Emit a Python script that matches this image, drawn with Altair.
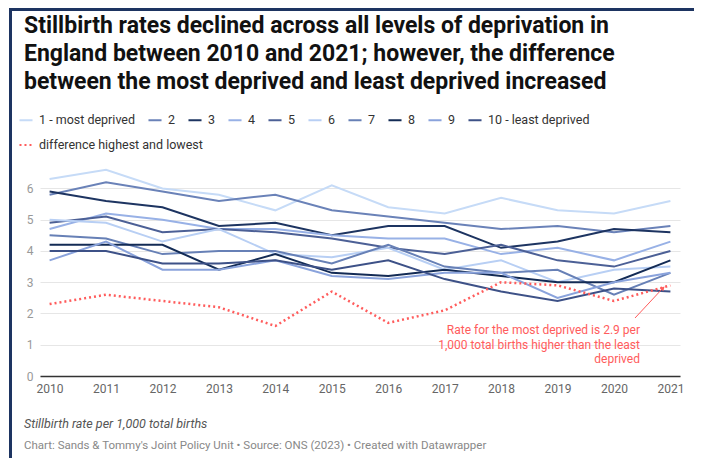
import altair as alt
import pandas as pd

years = list(range(2010, 2022))
series_names = ["1 - most deprived", "2", "3", "4", "5", "6", "7", "8", "9", "10 - least deprived"]
s1 = [6.3, 6.6, 6.0, 5.8, 5.3, 6.1, 5.4, 5.2, 5.7, 5.3, 5.2, 5.6]
s2 = [5.8, 6.2, 5.9, 5.6, 5.8, 5.3, 5.1, 4.9, 4.7, 4.8, 4.6, 4.8]
s3 = [5.9, 5.6, 5.4, 4.8, 4.9, 4.5, 4.8, 4.8, 4.1, 4.3, 4.7, 4.6]
s4 = [4.7, 5.2, 5.0, 4.7, 4.7, 4.5, 4.4, 4.4, 3.9, 4.1, 3.7, 4.3]
s5 = [4.9, 5.1, 4.6, 4.7, 4.6, 4.4, 4.1, 3.9, 4.2, 3.7, 3.5, 4.0]
s6 = [5.0, 4.9, 4.3, 4.7, 3.9, 3.8, 4.1, 3.4, 3.7, 3.0, 3.4, 3.5]
s7 = [4.5, 4.4, 3.9, 4.0, 4.0, 3.6, 4.2, 3.5, 3.3, 3.4, 2.6, 3.3]
s8 = [4.2, 4.2, 4.2, 3.4, 3.9, 3.3, 3.2, 3.4, 3.2, 3.0, 3.0, 3.7]
s9 = [3.7, 4.3, 3.4, 3.4, 3.7, 3.2, 3.1, 3.3, 3.3, 2.5, 3.0, 3.3]
s10 = [4.0, 4.0, 3.6, 3.6, 3.7, 3.4, 3.7, 3.1, 2.7, 2.4, 2.8, 2.7]
diff_label = "difference highest and lowest"
diff = [2.3, 2.6, 2.4, 2.2, 1.6, 2.7, 1.7, 2.1, 3.0, 2.9, 2.4, 2.9]
colors = ["#c6dbf7", "#6a82b8", "#1d3461", "#98b1e6", "#4c6096",
          "#b8cff4", "#6780b6", "#132b55", "#8aa3dc", "#3d5187"]
y_ticks = [0, 1, 2, 3, 4, 5, 6]

title_lines = [
    "Stillbirth rates declined across all levels of deprivation in",
    "England between 2010 and 2021; however, the difference",
    "between the most deprived and least deprived increased",
]
annotation = [
    "Rate for the most deprived is 2.9 per",
    "1,000 total births higher than the least",
    "deprived",
]
note = "Stillbirth rate per 1,000 total births"
source = "Chart: Sands & Tommy's Joint Policy Unit \u2022 Source: ONS (2023) \u2022 Created with Datawrapper"

all_series = [s1, s2, s3, s4, s5, s6, s7, s8, s9, s10]
rows = []
for name, vals in zip(series_names, all_series):
    for y, v in zip(years, vals):
        rows.append({"year": str(y), "series": name, "rate": v})
df = pd.DataFrame(rows)
df_diff = pd.DataFrame({"year": [str(y) for y in years], "rate": diff, "label": diff_label})

FONT = "Roboto"
RED = "#ff5c5c"

xscale = alt.Scale(type="point", padding=0.17)
yscale = alt.Scale(domain=[0, 6.75], nice=False)

xaxis = alt.Axis(title=None, labelFont=FONT, labelFontSize=12, labelColor="#666",
                 ticks=False, grid=False, domainColor="#333", domainWidth=1.5,
                 labelPadding=7, labelAngle=0)
yaxis = alt.Axis(title=None, labelFont=FONT, labelFontSize=12, labelColor="#999",
                 ticks=False, domain=False, grid=True, gridColor="#e6e6e6",
                 values=y_ticks, labelPadding=7, labelOverlap=False)

lines = alt.Chart(df).mark_line(strokeWidth=2).encode(
    x=alt.X("year:O", scale=xscale, axis=xaxis),
    y=alt.Y("rate:Q", scale=yscale, axis=yaxis),
    color=alt.Color("series:N", sort=series_names,
                    scale=alt.Scale(domain=series_names, range=colors),
                    legend=alt.Legend(orient="none", legendX=-22, legendY=-53,
                                      direction="horizontal", columns=10, title=None,
                                      symbolType="stroke", symbolSize=170,
                                      symbolStrokeWidth=2, labelFont=FONT,
                                      labelFontSize=12.5, labelColor="#333",
                                      columnPadding=8, labelOffset=5, labelLimit=300)),
    detail="series:N",
)

diff_line = alt.Chart(df_diff).mark_line(strokeWidth=2.5, color=RED).encode(
    x=alt.X("year:O", scale=xscale, axis=xaxis),
    y=alt.Y("rate:Q", scale=yscale, axis=yaxis),
    strokeDash=alt.StrokeDash("label:N",
                              scale=alt.Scale(domain=[diff_label], range=[[2, 3]]),
                              legend=alt.Legend(orient="none", legendX=-22, legendY=-28,
                                                title=None, symbolType="stroke",
                                                symbolSize=170, symbolStrokeWidth=2,
                                                symbolStrokeColor=RED, labelFont=FONT,
                                                labelFontSize=12.5, labelColor="#333",
                                                labelOffset=5, labelLimit=300)),
)

one = pd.DataFrame({"a": [0]})

border = alt.Chart(one).mark_rect(fillOpacity=0, stroke="#1d3461", strokeWidth=3).encode(
    x=alt.value(-29.5), x2=alt.value(658), y=alt.value(-155.5), y2=alt.value(330)
)

title = alt.Chart(one).mark_text(
    align="left", baseline="top", font=FONT, fontSize=23, fontWeight="bold",
    color="#111", lineHeight=28, text=title_lines
).encode(x=alt.value(-16), y=alt.value(-150))

ann = alt.Chart(one).mark_text(
    align="right", baseline="middle", font=FONT, fontSize=12, color=RED,
    lineHeight=14.5, text=annotation
).encode(x=alt.value(600), y=alt.value(165))

arrow = alt.Chart(one).mark_rule(color=RED, strokeWidth=1).encode(
    x=alt.value(595), y=alt.value(153), x2=alt.value(623), y2=alt.value(123)
)
arrow_head = alt.Chart(one).mark_point(shape="triangle-up", filled=True, color=RED,
                                       size=25, angle=43, opacity=1).encode(
    x=alt.value(623), y=alt.value(123)
)

note_txt = alt.Chart(one).mark_text(
    align="left", baseline="middle", font=FONT, fontSize=12.5, fontStyle="italic",
    color="#555", text=note
).encode(x=alt.value(-16), y=alt.value(259))
source_txt = alt.Chart(one).mark_text(
    align="left", baseline="middle", font=FONT, fontSize=11.5,
    color="#888", text=source
).encode(x=alt.value(-16), y=alt.value(281))

chart = alt.layer(
    lines, diff_line, ann, arrow, arrow_head, title, note_txt, source_txt, border
).resolve_scale(color="independent").properties(
    width=640, height=211,
    autosize=alt.AutoSizeParams(type="none"),
    padding={"left": 32, "top": 157, "right": 14, "bottom": 82},
    background="white",
).configure_view(stroke=None)

chart.save("out.html", embed_options={"renderer": "svg", "actions": False})
